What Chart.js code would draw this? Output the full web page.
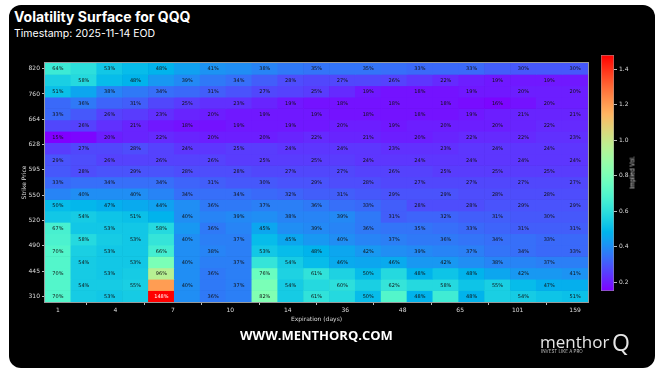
<!DOCTYPE html>
<html><head><meta charset="utf-8">
<script src="https://cdn.jsdelivr.net/npm/chart.js@4.4.1/dist/chart.umd.min.js"></script>
<style>
html,body{margin:0;padding:0;background:#fff;width:662px;height:373px;overflow:hidden;font-family:Inter,"DejaVu Sans",sans-serif}
#card{position:absolute;left:9px;top:5px;width:646px;height:363px;background:#000;border-radius:12px}
#title{position:absolute;left:14px;top:8px;color:#fff;font-weight:700;font-size:14px;white-space:nowrap}
#stamp{position:absolute;left:14px;top:27px;color:#fff;font-size:10.5px;white-space:nowrap}
#site{position:absolute;left:240px;top:326px;color:#fff;font-weight:700;font-size:13px;white-space:nowrap;font-family:"Open Sans",Inter,sans-serif}
#logo{position:absolute;left:540px;top:330px;color:#e6e6e6;font-size:17px;white-space:nowrap;font-family:"Open Sans",sans-serif}
#logoq{position:absolute;left:612px;top:326px;color:#e6e6e6;font-size:23px;font-family:"Open Sans",sans-serif}
#tag{position:absolute;left:541px;top:349px;color:#bbb;font-size:4.5px;white-space:nowrap}
#cbt{position:absolute;left:612px;top:169px;width:40px;text-align:center;color:#ddd;font-size:6px;white-space:nowrap;transform:rotate(-90deg);transform-origin:center}
canvas{position:absolute}
</style></head>
<body>
<div id="card"></div>
<div id="title">Volatility Surface for QQQ</div>
<div id="stamp">Timestamp: 2025-11-14 EOD</div>
<canvas id="main" width="662" height="373" style="left:0;top:0"></canvas>
<canvas id="cb" width="77" height="270" style="left:585px;top:40px"></canvas>
<div id="cbt">Implied Vol.</div>
<div id="site">WWW.MENTHORQ.COM</div>
<div id="logo">menthor</div>
<div id="logoq">Q</div>
<div id="tag">INVEST LIKE A PRO</div>
<script>
// ---- data (implied vol, %) : rows top (high strike) to bottom, columns = expirations ----
const xTickLabels = ['1','4','7','10','14','36','48','65','101','159'];
const yTickLabels = ['820','760','664','628','595','550','520','490','445','310'];
const vMin = 0.15, vMax = 1.48;

const iv_r00 = [64,60,53,50,48,44,41,40,38,36,35,35,35,34,33,33,33,31,30,30,30];
const iv_r01 = [55,58,50,48,42,39,36,34,31,28,27,27,27,26,24,22,20,19,19,19,19];
const iv_r02 = [51,45,38,36,34,33,31,29,27,26,25,22,19,18,18,18,19,19,20,20,20];
const iv_r03 = [33,36,32,31,27,25,23,23,21,19,18,18,18,18,18,18,17,16,18,20,20];
const iv_r04 = [33,30,26,25,23,21,20,19,19,19,19,18,18,18,18,18,19,20,21,21,21];
const iv_r05 = [27,26,23,21,19,18,18,19,19,19,19,20,20,19,20,20,20,20,21,22,22];
const iv_r06 = [15,16,20,21,22,21,20,20,20,21,22,21,21,20,20,21,22,22,22,23,23];
const iv_r07 = [25,27,27,28,26,24,24,25,25,24,24,24,24,23,23,23,24,24,24,24,24];
const iv_r08 = [29,28,26,26,26,26,26,25,25,25,25,25,24,24,24,24,24,24,24,24,24];
const iv_r09 = [30,28,29,29,29,28,28,28,27,27,27,27,26,26,26,25,25,25,25,25,25];
const iv_r10 = [33,34,34,34,34,32,31,30,30,29,29,28,28,27,27,27,27,27,27,27,27];
const iv_r11 = [38,40,40,40,38,34,34,34,33,32,31,31,30,29,29,29,28,28,28,28,28];
const iv_r12 = [50,49,47,46,44,40,36,36,37,37,36,34,33,31,28,28,28,29,29,29,29];
const iv_r13 = [53,54,52,51,48,40,38,39,40,38,38,39,36,31,32,32,31,31,30,30,30];
const iv_r14 = [67,53,53,53,58,42,36,38,45,40,39,38,36,35,35,34,33,32,31,31,31];
const iv_r15 = [68,58,54,53,62,40,37,37,50,45,42,40,38,37,36,36,35,34,34,33,33];
const iv_r16 = [70,55,53,53,66,40,38,37,53,50,48,45,42,40,39,38,37,35,34,33,33];
const iv_r17 = [70,54,53,53,80,40,37,37,62,54,50,46,45,46,42,42,40,38,38,37,37];
const iv_r18 = [70,54,53,54,96,40,36,37,76,56,61,56,50,58,48,52,48,45,42,42,41];
const iv_r19 = [70,54,54,55,120,40,36,37,80,54,58,60,55,62,58,58,52,55,50,47,47];
const iv_r20 = [70,54,53,54,148,40,36,37,82,54,61,58,50,70,48,65,48,55,54,52,51];

const ivRows = [iv_r00,iv_r01,iv_r02,iv_r03,iv_r04,iv_r05,iv_r06,iv_r07,iv_r08,iv_r09,iv_r10,
                iv_r11,iv_r12,iv_r13,iv_r14,iv_r15,iv_r16,iv_r17,iv_r18,iv_r19,iv_r20];

// matplotlib "rainbow" colormap
function rainbow(t){
  t = Math.min(1, Math.max(0, t));
  const r = Math.min(1, Math.abs(2*t - 0.5)), g = Math.sin(Math.PI*t), b = Math.cos(Math.PI*t/2);
  return `rgb(${Math.round(r*255)},${Math.round(g*255)},${Math.round(b*255)})`;
}
const colorFor = v => rainbow((v/100 - vMin)/(vMax - vMin));

const nRows = ivRows.length, nCols = ivRows[0].length;
const xTickPos = xTickLabels.map((_,k)=> k*(nCols-1)/(xTickLabels.length-1));
const yTickPos = yTickLabels.map((_,k)=> (nRows-0.5) - k*(nRows-1)/(yTickLabels.length-1));

const datasets = ivRows.map((row, r) => ({
  rowIndex: r,
  data: row.map((v, c) => ({x: c, y: [nRows-1-r, nRows-r]})),
  backgroundColor: row.map(colorFor),
  borderWidth: 0,
  grouped: false,
  barPercentage: 1,
  categoryPercentage: 1
}));

const cellLabels = {
  id: 'cellLabels',
  afterDatasetsDraw(chart){
    const ctx = chart.ctx;
    ctx.save();
    ctx.font = '5px "DejaVu Sans"';
    ctx.textAlign = 'center';
    ctx.textBaseline = 'middle';
    chart.data.datasets.forEach((ds, di) => {
      const r = ds.rowIndex;
      chart.getDatasetMeta(di).data.forEach((el, c) => {
        if ((r + c) % 2) return;
        const v = ivRows[r][c];
        ctx.fillStyle = v >= 130 ? '#fff' : '#111';
        ctx.fillText(v + '%', el.x, (el.y + el.base)/2 + 0.5);
      });
    });
    ctx.restore();
  }
};
const frame = {
  id: 'frame',
  afterDraw(chart){
    const a = chart.chartArea, ctx = chart.ctx;
    ctx.save(); ctx.strokeStyle = '#9a9a9a'; ctx.lineWidth = 1;
    ctx.strokeRect(Math.round(a.left)-0.5, Math.round(a.top)-0.5, Math.round(a.right-a.left)+1, Math.round(a.bottom-a.top)+1);
    ctx.restore();
  }
};

const tickFont = {size: 6, family: '"DejaVu Sans"'};
new Chart(document.getElementById('main'), {
  type: 'bar',
  data: { datasets },
  options: {
    responsive: false, animation: false, devicePixelRatio: 1,
    layout: { padding: { left: 12, right: 74, top: 63, bottom: 50 } },
    plugins: { legend: {display:false}, tooltip: {enabled:false} },
    scales: {
      x: {
        type: 'linear', min: -0.5, max: nCols-0.5, offset: false,
        afterBuildTicks: s => { s.ticks = xTickPos.map(v => ({value: v})); },
        afterFit: s => { s.height = 21; },
        ticks: { callback: (v,i) => xTickLabels[i], color:'#ddd', font: tickFont, padding: 2, maxRotation: 0, autoSkip: false },
        grid: { display: true, drawOnChartArea: false, drawTicks: true, tickLength: 3, color: '#bbb' },
        border: { display: true, color: '#9a9a9a' },
        title: { display: true, text: 'Expiration (days)', color: '#ddd', font: tickFont, padding: {top: 1, bottom: 0} }
      },
      y: {
        type: 'linear', min: 0, max: nRows,
        afterBuildTicks: s => { s.ticks = yTickPos.map(v => ({value: v})); },
        afterFit: s => { s.width = 33; },
        ticks: { callback: (v,i) => yTickLabels[i], color:'#ddd', font: tickFont, padding: 2, autoSkip: false },
        grid: { display: true, drawOnChartArea: false, drawTicks: true, tickLength: 3, color: '#bbb' },
        border: { display: true, color: '#9a9a9a' },
        title: { display: true, text: 'Strike Price', color: '#ddd', font: tickFont, padding: {top: 9, bottom: 0} }
      }
    }
  },
  plugins: [cellLabels, frame]
});

// colorbar
new Chart(document.getElementById('cb'), {
  type: 'bar',
  data: { labels: [''], datasets: [{
    data: [[vMin, vMax]],
    backgroundColor: (c) => {
      const ch = c.chart, ys = ch.scales.y;
      if (!ys || !ch.chartArea) return '#888';
      const g = ch.ctx.createLinearGradient(0, ys.getPixelForValue(vMin), 0, ys.getPixelForValue(vMax));
      for (let i = 0; i <= 40; i++) g.addColorStop(i/40, rainbow(i/40));
      return g;
    },
    borderColor: '#9a9a9a', borderWidth: 0.8, borderSkipped: false,
    barPercentage: 1, categoryPercentage: 1
  }]},
  options: {
    responsive: false, animation: false, devicePixelRatio: 1,
    layout: { padding: { left: 16, right: 4, top: 15, bottom: 19 } },
    plugins: { legend: {display:false}, tooltip: {enabled:false} },
    scales: {
      x: { display: false },
      y: {
        position: 'right', min: vMin, max: vMax,
        afterBuildTicks: s => { s.ticks = [0.2,0.4,0.6,0.8,1.0,1.2,1.4].map(v => ({value: v})); },
        afterFit: s => { s.width = 44; },
        ticks: { callback: v => v.toFixed(1), color:'#ddd', font: tickFont, padding: 2 },
        grid: { display: true, drawOnChartArea: false, drawTicks: true, tickLength: 3, color: '#bbb' },
        border: { display: false }
      }
    }
  }
});
</script>
</body></html>
